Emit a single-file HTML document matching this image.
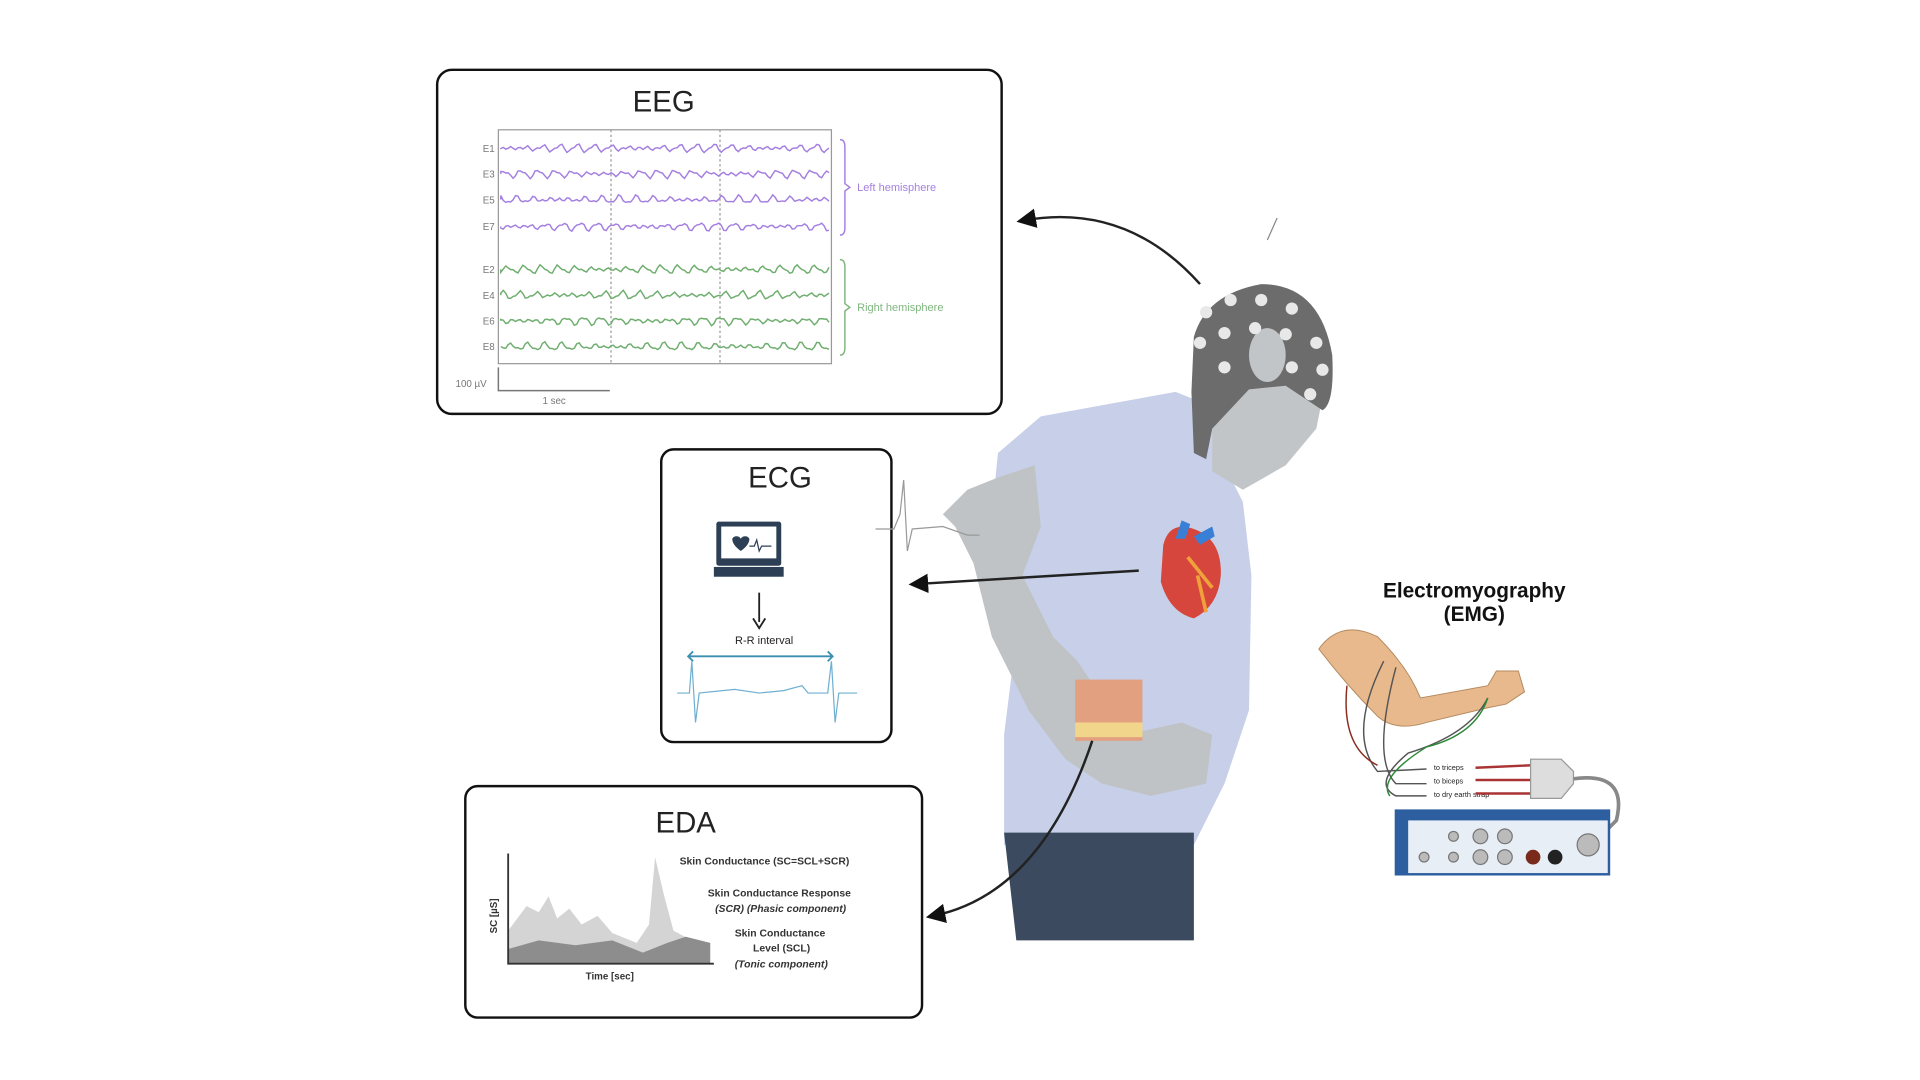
<!DOCTYPE html>
<html><head><meta charset="utf-8"><style>
html,body{margin:0;padding:0;background:#fff;width:1920px;height:1080px;overflow:hidden}
svg{display:block}
text{font-family:"Liberation Sans",sans-serif}
</style></head><body>
<svg id="s" width="1920" height="1080" viewBox="0 0 1568 882" xmlns="http://www.w3.org/2000/svg">
<defs>
<marker id="ah" markerWidth="8" markerHeight="8" refX="5" refY="4" orient="auto"><path d="M0,0 L8,4 L0,8 Z" fill="#111"/></marker>
</defs>
<!-- EEG box -->
<rect x="357" y="57" width="461" height="281" rx="12" fill="#fff" stroke="#111" stroke-width="2"/>
<text x="542" y="91" font-size="24" text-anchor="middle" fill="#222">EEG</text>
<rect x="407" y="106" width="272" height="191" fill="none" stroke="#999" stroke-width="1"/>
<line x1="499" y1="106" x2="499" y2="297" stroke="#999" stroke-dasharray="2,2"/>
<line x1="588" y1="106" x2="588" y2="297" stroke="#999" stroke-dasharray="2,2"/>
<g id="traces"></g>
<g font-size="8" fill="#777" text-anchor="end">
<text x="404" y="124">E1</text><text x="404" y="145">E3</text><text x="404" y="166">E5</text><text x="404" y="188">E7</text>
<text x="404" y="223">E2</text><text x="404" y="244">E4</text><text x="404" y="265">E6</text><text x="404" y="286">E8</text>
</g>
<path d="M686,114 Q690,114 690,120 L690,150 L694,153 L690,156 L690,186 Q690,192 686,192" fill="none" stroke="#a57fe0" stroke-width="1.2"/>
<path d="M686,212 Q690,212 690,218 L690,248 L694,251 L690,254 L690,284 Q690,290 686,290" fill="none" stroke="#7fb67f" stroke-width="1.2"/>
<text x="700" y="156" font-size="9" fill="#a57fe0">Left hemisphere</text>
<text x="700" y="254" font-size="9" fill="#7fb67f">Right hemisphere</text>
<path d="M407,300 L407,319 L498,319" fill="none" stroke="#777" stroke-width="1.2"/>
<text x="372" y="316" font-size="8" fill="#777">100 µV</text>
<text x="443" y="330" font-size="8" fill="#777">1 sec</text>

<!-- ECG box -->
<rect x="540" y="367" width="188" height="239" rx="10" fill="#fff" stroke="#111" stroke-width="2"/>
<text x="637" y="398" font-size="24" text-anchor="middle" fill="#222">ECG</text>
<rect x="585" y="426" width="53" height="36" rx="2" fill="#2d3f55"/>
<rect x="589" y="430" width="45" height="26" fill="#fff"/>
<path d="M598,440 a4,4 0 0 1 7,0 a4,4 0 0 1 7,0 q0,5 -7,10 q-7,-5 -7,-10z" fill="#2d3f55"/>
<path d="M612,446 l4,0 l2,-5 l2,9 l2,-4 l8,0" fill="none" stroke="#2d3f55" stroke-width="1"/>
<rect x="583" y="463" width="57" height="8" fill="#2d3f55"/>
<line x1="620" y1="484" x2="620" y2="508" stroke="#222" stroke-width="1.5"/>
<path d="M615,505 L620,513 L625,505" fill="none" stroke="#222" stroke-width="1.5"/>
<text x="624" y="526" font-size="9" text-anchor="middle" font-family="Liberation Serif" fill="#222">R-R interval</text>
<line x1="563" y1="536" x2="679" y2="536" stroke="#3a8fb0" stroke-width="1.5"/>
<path d="M566,532 L562,536 L566,540 M676,532 L680,536 L676,540" fill="none" stroke="#3a8fb0" stroke-width="1.5"/>
<path d="M553,566 L563,566 L565,540 L568,590 L571,566 L600,563 L620,566 L640,564 L655,560 L660,566 L676,566 L679,540 L682,590 L685,566 L700,566" fill="none" stroke="#6fb0d0" stroke-width="1"/>

<!-- EDA box -->
<rect x="380" y="642" width="373" height="189" rx="10" fill="#fff" stroke="#111" stroke-width="2"/>
<text x="560" y="680" font-size="24" text-anchor="middle" fill="#222">EDA</text>
<path d="M415,760 L430,740 L440,745 L448,732 L455,750 L465,742 L475,755 L488,748 L500,762 L520,770 L530,755 L535,700 L542,730 L550,760 L565,768 L580,770 L580,787 L415,787Z" fill="#d4d4d4"/>
<path d="M415,775 L440,768 L470,772 L500,768 L525,778 L545,770 L560,765 L580,770 L580,787 L415,787Z" fill="#8d8d8d"/>
<path d="M415,697 L415,787 L583,787" fill="none" stroke="#333" stroke-width="1.5"/>
<text x="406" y="748" font-size="8" font-weight="bold" fill="#333" transform="rotate(-90 406 748)" text-anchor="middle">SC [µS]</text>
<text x="498" y="800" font-size="8" font-weight="bold" fill="#333" text-anchor="middle">Time [sec]</text>
<g font-size="8.5" font-weight="bold" fill="#333">
<text x="555" y="706">Skin Conductance (SC=SCL+SCR)</text>
<text x="578" y="732">Skin Conductance Response</text>
<text x="584" y="745" font-style="italic">(SCR) (Phasic component)</text>
<text x="600" y="765">Skin Conductance</text>
<text x="615" y="777">Level (SCL)</text>
<text x="600" y="790" font-style="italic">(Tonic component)</text>
</g>

<!-- Person -->
<path d="M905,330 L960,320 L985,330 L1000,380 L1015,410 L1022,470 L1020,580 L1000,640 L975,690 L820,690 L820,600 L830,520 L835,470 L810,420 L815,370 L850,340Z" fill="#c7d0e8"/>
<path d="M820,680 L975,680 L975,768 L830,768Z" fill="#3b4a5e"/>
<path d="M815,390 L845,380 L850,430 L835,470 L860,520 L880,540 L900,570 L920,600 L965,590 L990,600 L985,640 L940,650 L900,640 L870,620 L840,580 L810,520 L795,460 L780,430 L770,420 L790,400Z" fill="#bfc3c5"/>
<path d="M990,330 L1000,300 L1050,280 L1085,300 L1075,350 L1050,380 L1015,400 L990,385Z" fill="#c2c5c7"/>
<path d="M975,275 Q985,240 1030,232 Q1078,232 1088,290 Q1090,330 1080,335 L1050,315 L1020,318 L990,350 L985,375 L975,370 L973,320Z" fill="#6c6c6c"/>
<ellipse cx="1035" cy="290" rx="15" ry="22" fill="#c2c5c7"/>
<g fill="#e8e8e8">
<circle cx="985" cy="255" r="5"/><circle cx="1005" cy="245" r="5"/><circle cx="1030" cy="245" r="5"/><circle cx="1055" cy="252" r="5"/>
<circle cx="980" cy="280" r="5"/><circle cx="1000" cy="272" r="5"/><circle cx="1025" cy="268" r="5"/><circle cx="1050" cy="273" r="5"/><circle cx="1075" cy="280" r="5"/>
<circle cx="1000" cy="300" r="5"/><circle cx="1055" cy="300" r="5"/><circle cx="1080" cy="302" r="5"/><circle cx="1070" cy="322" r="5"/>
</g>
<!-- heart -->
<path d="M950,445 Q955,425 975,432 Q998,440 997,470 Q995,495 975,505 Q955,500 948,475Z" fill="#d6463c"/>
<path d="M960,440 L965,425 L972,428 L968,440 M975,438 L990,430 L992,438 L980,445" fill="#3a7fd6"/>
<path d="M970,455 L990,480 M978,470 L985,500" stroke="#f0a23a" stroke-width="3" fill="none"/>
<!-- skin -->
<rect x="878" y="555" width="55" height="50" fill="#e3a080"/>
<rect x="878" y="590" width="55" height="12" fill="#f1d58a"/>
<!-- arrows -->
<path d="M980,232 Q920,165 836,180" fill="none" stroke="#222" stroke-width="2" marker-end="url(#ah)"/>
<line x1="930" y1="466" x2="748" y2="477" stroke="#222" stroke-width="2" marker-end="url(#ah)"/>
<path d="M892,605 Q850,730 762,748" fill="none" stroke="#222" stroke-width="2" marker-end="url(#ah)"/>
<path d="M715,432 L730,432 L735,420 L738,392 L741,450 L745,432 L770,430 L790,437 L800,437" fill="none" stroke="#999" stroke-width="1"/>
<line x1="1035" y1="196" x2="1043" y2="178" stroke="#888"/>

<!-- EMG -->
<text x="1204" y="488" font-size="17" font-weight="bold" text-anchor="middle" fill="#111">Electromyography</text>
<text x="1204" y="507" font-size="17" font-weight="bold" text-anchor="middle" fill="#111">(EMG)</text>
<path d="M1077,530 Q1095,505 1125,520 Q1150,545 1160,570 L1215,560 L1222,548 L1240,548 L1245,565 L1230,575 L1215,578 L1165,590 Q1140,598 1125,585 Q1100,560 1077,530Z" fill="#e7b98d" stroke="#b48a60" stroke-width="0.8"/>
<path d="M1130,540 Q1100,600 1125,630 L1165,628 M1140,545 Q1120,620 1140,640 L1165,640 M1215,570 Q1200,600 1150,615 Q1120,640 1140,650 L1165,650" fill="none" stroke="#555" stroke-width="1.2"/>
<path d="M1100,560 Q1095,610 1125,625" fill="none" stroke="#8a2d20" stroke-width="1.2"/>
<path d="M1215,570 Q1205,600 1165,610 Q1125,635 1135,650" fill="none" stroke="#2c8a3a" stroke-width="1.2"/>
<g font-size="6" fill="#222"><text x="1171" y="629">to triceps</text><text x="1171" y="640">to biceps</text><text x="1171" y="651">to dry earth strap</text></g>
<path d="M1205,627 L1250,625 M1205,637 L1250,637 M1205,648 L1250,648" stroke="#a33" stroke-width="2"/>
<path d="M1250,620 L1275,620 L1285,630 L1285,640 L1275,652 L1250,652Z" fill="#ddd" stroke="#999"/>
<path d="M1285,636 Q1330,630 1320,670 L1300,690" fill="none" stroke="#888" stroke-width="3"/>
<rect x="1140" y="662" width="174" height="52" fill="#e8eef5" stroke="#2d5fa0" stroke-width="2"/>
<rect x="1140" y="662" width="174" height="8" fill="#2d5fa0"/>
<rect x="1140" y="662" width="10" height="52" fill="#2d5fa0"/>
<g fill="#bbb" stroke="#777"><circle cx="1187" cy="683" r="4"/><circle cx="1187" cy="700" r="4"/><circle cx="1209" cy="683" r="6"/><circle cx="1229" cy="683" r="6"/><circle cx="1209" cy="700" r="6"/><circle cx="1229" cy="700" r="6"/><circle cx="1163" cy="700" r="4"/><circle cx="1297" cy="690" r="9"/></g>
<circle cx="1252" cy="700" r="6" fill="#7a2a1a"/><circle cx="1270" cy="700" r="6" fill="#222"/>
</svg>
<script>
var g=document.getElementById('traces'),s='';
var ys=[121,142,163,185,220,241,262,283];
for(var i=0;i<8;i++){var c=i<4?'#a57fe0':'#6fae6f',d='M409,'+ys[i];
for(var x=409;x<=678;x+=2){var v=Math.sin(x*0.45+i*1.7)*3*Math.abs(Math.sin(x*0.03+i))+Math.sin(x*0.9+i)*1.2;d+=' L'+x+','+(ys[i]+v).toFixed(1);}
s+='<path d="'+d+'" fill="none" stroke="'+c+'" stroke-width="1.2"/>';}
g.innerHTML=s;
</script>
</body></html>
